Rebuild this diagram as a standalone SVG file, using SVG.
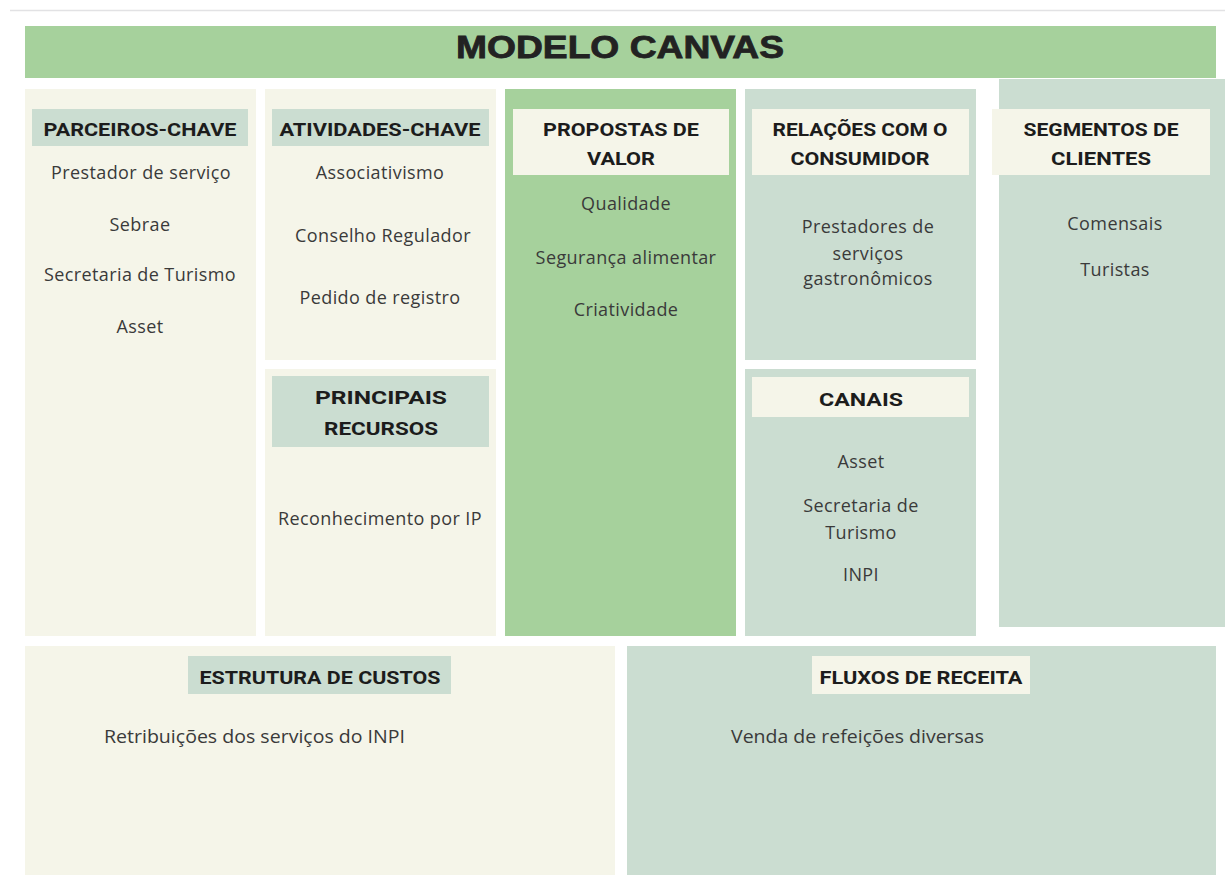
<svg xmlns="http://www.w3.org/2000/svg" width="1225" height="875" viewBox="0 0 1225 875">
<style>
.cream{fill:#f5f5e9}
.green{fill:#a6d19c}
.sage{fill:#cbddd1}
.h{font-family:"Roboto","Liberation Sans",sans-serif;font-weight:bold;font-size:19px;fill:#1c1c1c;text-anchor:middle}
.b{font-family:"Open Sans","Liberation Sans",sans-serif;font-size:18px;letter-spacing:0.4px;fill:#3a3a3a;text-anchor:middle}
.bl{font-family:"Open Sans","Liberation Sans",sans-serif;font-size:18px;fill:#3a3a3a}
.t{font-family:"Liberation Sans","Arial",sans-serif;font-weight:bold;font-size:31px;fill:#222;stroke:#222;stroke-width:0.8;text-anchor:middle}
</style>
<rect x="0" y="0" width="1225" height="875" fill="#ffffff"/>
<line x1="10" y1="10.5" x2="1225" y2="10.5" stroke="#e2e2e4" stroke-width="1.5"/>
<g id="title">
<rect x="25" y="26" width="1191" height="52" class="green"/>
<text x="620" y="58" class="t" textLength="328" lengthAdjust="spacingAndGlyphs">MODELO CANVAS</text>
</g>
<g id="parceiros">
<rect x="25" y="89" width="231" height="547" class="cream"/>
<rect x="32" y="109" width="216" height="37" class="sage"/>
<text x="140" y="136" class="h" textLength="193" lengthAdjust="spacingAndGlyphs">PARCEIROS-CHAVE</text>
<text x="141" y="179" class="b">Prestador de serviço</text>
<text x="140" y="231" class="b">Sebrae</text>
<text x="140" y="281" class="b">Secretaria de Turismo</text>
<text x="140" y="333" class="b">Asset</text>
</g>
<g id="atividades">
<rect x="265" y="89" width="231" height="271" class="cream"/>
<rect x="272" y="109" width="217" height="37" class="sage"/>
<text x="380" y="136" class="h" textLength="201" lengthAdjust="spacingAndGlyphs">ATIVIDADES-CHAVE</text>
<text x="380" y="179" class="b">Associativismo</text>
<text x="383" y="242" class="b">Conselho Regulador</text>
<text x="380" y="304" class="b">Pedido de registro</text>
</g>
<g id="recursos">
<rect x="265" y="369" width="231" height="267" class="cream"/>
<rect x="272" y="376" width="217" height="71" class="sage"/>
<text x="381" y="404" class="h" textLength="132" lengthAdjust="spacingAndGlyphs">PRINCIPAIS</text>
<text x="381" y="435" class="h" textLength="114" lengthAdjust="spacingAndGlyphs">RECURSOS</text>
<text x="380" y="525" class="b">Reconhecimento por IP</text>
</g>
<g id="propostas">
<rect x="505" y="89" width="231" height="547" class="green"/>
<rect x="513" y="109" width="216" height="66" class="cream"/>
<text x="621" y="136" class="h" textLength="156" lengthAdjust="spacingAndGlyphs">PROPOSTAS DE</text>
<text x="621" y="165" class="h" textLength="68" lengthAdjust="spacingAndGlyphs">VALOR</text>
<text x="626" y="210" class="b">Qualidade</text>
<text x="626" y="264" class="b">Segurança alimentar</text>
<text x="626" y="316" class="b">Criatividade</text>
</g>
<g id="relacoes">
<rect x="745" y="89" width="231" height="271" class="sage"/>
<rect x="752" y="109" width="217" height="66" class="cream"/>
<text x="860" y="136" class="h" textLength="175" lengthAdjust="spacingAndGlyphs">RELAÇÕES COM O</text>
<text x="860" y="165" class="h" textLength="139" lengthAdjust="spacingAndGlyphs">CONSUMIDOR</text>
<text x="868" y="233" class="b">Prestadores de</text>
<text x="868" y="260" class="b">serviços</text>
<text x="868" y="285" class="b">gastronômicos</text>
</g>
<g id="canais">
<rect x="745" y="369" width="231" height="267" class="sage"/>
<rect x="752" y="377" width="217" height="40" class="cream"/>
<text x="861" y="406" class="h" textLength="84" lengthAdjust="spacingAndGlyphs">CANAIS</text>
<text x="861" y="468" class="b">Asset</text>
<text x="861" y="512" class="b">Secretaria de</text>
<text x="861" y="539" class="b">Turismo</text>
<text x="861" y="581" class="b">INPI</text>
</g>
<g id="segmentos">
<rect x="999" y="79" width="226" height="548" class="sage"/>
<rect x="992" y="109" width="218" height="66" class="cream"/>
<text x="1101" y="136" class="h" textLength="155" lengthAdjust="spacingAndGlyphs">SEGMENTOS DE</text>
<text x="1101" y="165" class="h" textLength="100" lengthAdjust="spacingAndGlyphs">CLIENTES</text>
<text x="1115" y="230" class="b">Comensais</text>
<text x="1115" y="276" class="b">Turistas</text>
</g>
<g id="custos">
<rect x="25" y="646" width="590" height="229" class="cream"/>
<rect x="188" y="656" width="263" height="38" class="sage"/>
<text x="320" y="684" class="h" textLength="241" lengthAdjust="spacingAndGlyphs">ESTRUTURA DE CUSTOS</text>
<text x="104" y="743" class="bl" textLength="301" lengthAdjust="spacingAndGlyphs">Retribuições dos serviços do INPI</text>
</g>
<g id="receita">
<rect x="627" y="646" width="589" height="229" class="sage"/>
<rect x="812" y="656" width="218" height="38" class="cream"/>
<text x="921" y="684" class="h" textLength="203" lengthAdjust="spacingAndGlyphs">FLUXOS DE RECEITA</text>
<text x="731" y="743" class="bl" textLength="253" lengthAdjust="spacingAndGlyphs">Venda de refeições diversas</text>
</g>
<g id="connectors"></g>
</svg>
